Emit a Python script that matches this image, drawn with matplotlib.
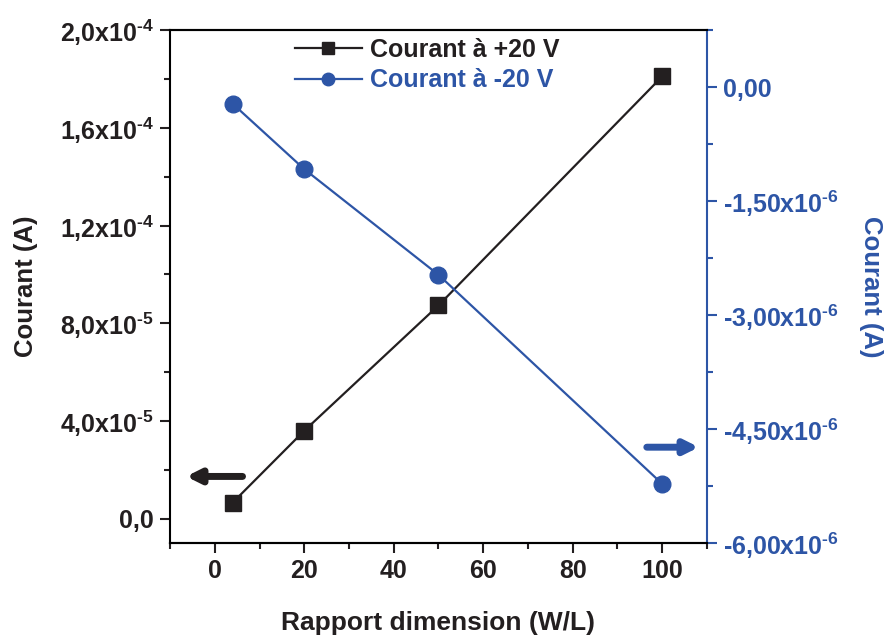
import matplotlib
matplotlib.use("Agg")
import matplotlib.pyplot as plt
from matplotlib.ticker import FixedLocator, MultipleLocator

plt.rcParams['font.family'] = ['Liberation Sans', 'DejaVu Sans']
plt.rcParams['font.weight'] = 'bold'
plt.rcParams['mathtext.fontset'] = 'custom'
plt.rcParams['mathtext.rm'] = 'Liberation Sans:bold'
plt.rcParams['mathtext.bf'] = 'Liberation Sans:bold'
plt.rcParams['mathtext.default'] = 'bf'

# data
ratio = [4, 20, 50, 100]
courant_pos = [6.6e-6, 3.6e-5, 8.73e-5, 1.81e-4]
courant_neg = [-0.22e-6, -1.08e-6, -2.47e-6, -5.22e-6]

HY = "\u2010"  # short hyphen for the exponents
left_ticks = [0, 4e-5, 8e-5, 1.2e-4, 1.6e-4, 2.0e-4]
left_labels = ["0,0", "4,0x10$^{" + HY + "5}$", "8,0x10$^{" + HY + "5}$",
               "1,2x10$^{" + HY + "4}$", "1,6x10$^{" + HY + "4}$",
               "2,0x10$^{" + HY + "4}$"]
right_ticks = [0, -1.5e-6, -3.0e-6, -4.5e-6, -6.0e-6]
right_labels = ["0,00", "-1,50x10$^{" + HY + "6}$", "-3,00x10$^{" + HY + "6}$",
                "-4,50x10$^{" + HY + "6}$", "-6,00x10$^{" + HY + "6}$"]

blue = "#2D55A6"
black = "#231F20"

fig = plt.figure(figsize=(8.87, 6.39), dpi=100)
ax = fig.add_axes([0.1917, 0.150, 0.6053, 0.803])
ax2 = ax.twinx()

l1, = ax.plot(ratio, courant_pos, color=black, lw=1.6, marker="s", ms=11,
              label="Courant à +20 V")
l2, = ax2.plot(ratio, courant_neg, color=blue, lw=1.6, marker="o", ms=12,
               label="Courant à -20 V")

ax.set_xlim(-10, 110)
ax.set_ylim(-1.0e-5, 2.0e-4)
ax2.set_ylim(-6.0e-6, 0.75e-6)

ax.xaxis.set_major_locator(MultipleLocator(20))
ax.xaxis.set_minor_locator(MultipleLocator(10))
ax.yaxis.set_major_locator(FixedLocator(left_ticks))
ax.yaxis.set_minor_locator(MultipleLocator(2e-5))
ax.set_yticklabels(left_labels)
ax2.yaxis.set_major_locator(FixedLocator(right_ticks))
ax2.yaxis.set_minor_locator(MultipleLocator(0.75e-6))
ax2.set_yticklabels(right_labels)

for a in (ax, ax2):
    for s in a.spines.values():
        s.set_linewidth(1.5)
ax.spines['top'].set_color(black)
ax2.spines['right'].set_color(blue)
ax2.spines['left'].set_visible(False)
ax.spines['right'].set_visible(False)

ax.tick_params(which="major", direction="out", length=7.5, width=1.5,
               labelsize=18, colors=black, pad=4)
ax.tick_params(which="minor", direction="out", length=4, width=1.5, colors=black)
ax2.tick_params(which="major", direction="out", length=7.5, width=1.5,
                labelsize=18, colors=blue, pad=4)
ax2.tick_params(which="minor", direction="out", length=4, width=1.5, colors=blue)

ax.set_xlabel("Rapport dimension (W/L)", fontsize=19, fontweight="bold",
              labelpad=20, color=black)
ax.set_ylabel("Courant (A)", fontsize=18.5, fontweight="bold", labelpad=16,
              color=black)
ax2.set_ylabel("Courant (A)", fontsize=18.5, fontweight="bold", rotation=270,
               labelpad=32, color=blue)

leg = ax.legend(handles=[l1, l2], loc="upper left",
                bbox_to_anchor=(0.19, 1.028), frameon=False,
                handlelength=2.7, handletextpad=0.3, labelspacing=0.25,
                markerscale=0.75, prop={'weight': 'bold', 'size': 18})
leg.get_texts()[0].set_color(black)
leg.get_texts()[1].set_color(blue)

ax.annotate("", xy=(0.030, 0.13), xytext=(0.135, 0.13), xycoords="axes fraction",
            arrowprops=dict(arrowstyle="-|>", color=black, lw=5,
                            mutation_scale=20, shrinkA=0, shrinkB=0))
ax.annotate("", xy=(0.985, 0.187), xytext=(0.888, 0.187), xycoords="axes fraction",
            arrowprops=dict(arrowstyle="-|>", color=blue, lw=5,
                            mutation_scale=20, shrinkA=0, shrinkB=0))

fig.savefig("out.png", dpi=100)
